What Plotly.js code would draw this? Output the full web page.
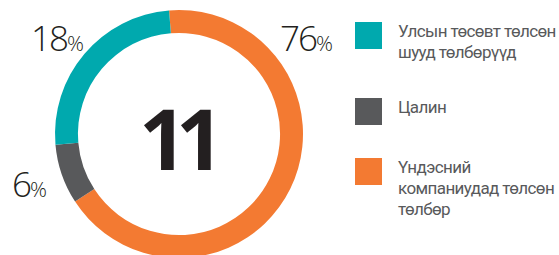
<!DOCTYPE html>
<html>
<head>
<meta charset="utf-8">
<script src="https://cdn.plot.ly/plotly-3.0.1.min.js"></script>
<style>
html,body{margin:0;padding:0;overflow:hidden;background:#fff;}
#chart{width:559px;height:264px;}
</style>
</head>
<body>
<div id="chart"></div>
<script>
// Data (order clockwise from the top)
const categories = ['Үндэсний компаниудад төлсөн төлбөр', 'Цалин', 'Улсын төсөвт төлсөн шууд төлбөрүүд'];
const legendLabels = [['Үндэсний', 'компаниудад төлсөн', 'төлбөр'], ['Цалин'], ['Улсын төсөвт төлсөн', 'шууд төлбөрүүд']];
// arc shares as drawn in the picture
const arcShares = [67.1, 7.8, 25.1];
// percentage labels printed on the chart
const pctLabels = ['76', '6', '18'];
const colors = ['#F37A32', '#58595B', '#00A9AE'];
const centerValue = '11';

const W = 559, H = 264;
const px = (x) => x / W;
const py = (y) => 1 - y / H;

const trace = {
  type: 'pie',
  labels: categories,
  values: arcShares,
  marker: {colors: colors, line: {width: 0}},
  hole: 0.815,
  sort: false,
  direction: 'clockwise',
  rotation: -4.6,
  textinfo: 'none',
  hoverinfo: 'skip',
  showlegend: false,
  domain: {x: [px(55), px(303)], y: [py(258), py(10)]}
};

// label positions (pixels) for percentage labels, same order as categories
const pctPos = [[306, 38], [29, 183], [57, 38]];
const annotations = [];
pctLabels.forEach((v, i) => {
  annotations.push({
    xref: 'paper', yref: 'paper', x: px(pctPos[i][0]), y: py(pctPos[i][1]),
    xanchor: 'center', yanchor: 'middle', showarrow: false,
    text: '<span style="letter-spacing:-2px">' + v + '</span><span style="font-size:21px">%</span>',
    font: {family: 'Open Sans', size: 35, color: '#231F20', weight: 300}
  });
});
annotations.push({
  xref: 'paper', yref: 'paper', x: px(176), y: py(137),
  xanchor: 'center', yanchor: 'middle', showarrow: false,
  text: '<span style="letter-spacing:-11px">' + centerValue + '</span>',
  font: {family: 'Open Sans', size: 84, color: '#231F20', weight: 700}
});

// custom legend (top-to-bottom order: teal, gray, orange)
const legendOrder = [2, 1, 0];
const legendTops = [22, 98, 158];
const lineGap = 21;
const shapes = [];
legendOrder.forEach((idx, k) => {
  const top = legendTops[k];
  shapes.push({
    type: 'rect', xref: 'paper', yref: 'paper',
    x0: px(355), x1: px(382), y0: py(top + 27), y1: py(top),
    fillcolor: colors[idx], line: {width: 0}
  });
  legendLabels[idx].forEach((line, j) => {
    annotations.push({
      xref: 'paper', yref: 'paper', x: px(396), y: py(top + 9 + j * lineGap),
      xanchor: 'left', yanchor: 'middle', align: 'left', showarrow: false,
      text: '<span style="letter-spacing:-0.6px">' + line + '</span>',
      font: {family: 'Roboto', size: 17, color: '#58595B'}
    });
  });
});

Plotly.newPlot('chart', [trace], {
  width: W, height: H,
  margin: {l: 0, r: 0, t: 0, b: 0, pad: 0},
  paper_bgcolor: '#fff', plot_bgcolor: '#fff',
  showlegend: false,
  shapes: shapes,
  annotations: annotations
}, {staticPlot: true, displayModeBar: false});
</script>
</body>
</html>
